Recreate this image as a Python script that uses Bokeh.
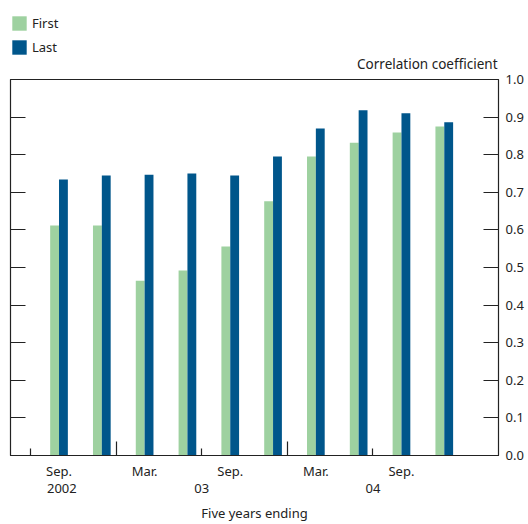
from bokeh.plotting import figure
from bokeh.layouts import column
from bokeh.models import (Range1d, LinearAxis, FixedTicker, Legend, LegendItem,
                          ColumnDataSource, Label, PrintfTickFormatter)
from bokeh.transform import dodge
from bokeh.embed import file_html
from bokeh.resources import INLINE

# x values are months counted from Jan 2002 = 1 (quarter ends)
months = [9, 12, 15, 18, 21, 24, 27, 30, 33, 36]
first = [0.612, 0.612, 0.465, 0.492, 0.556, 0.676, 0.795, 0.832, 0.859, 0.875]
last = [0.734, 0.745, 0.747, 0.750, 0.745, 0.795, 0.870, 0.918, 0.910, 0.886]

series_names = ["First", "Last"]
month_label_pos = [9, 15, 21, 27, 33]
month_labels = ["Sep.", "Mar.", "Sep.", "Mar.", "Sep."]
year_label_pos = [9.2, 19, 31]
year_labels = ["2002", "03", "04"]
year_ticks = [13, 25]
half_year_ticks = [7, 19, 31]
y_ticks = [0.0, 0.1, 0.2, 0.3, 0.4, 0.5, 0.6, 0.7, 0.8, 0.9, 1.0]
y_unit = "Correlation coefficient"
x_title = "Five years ending"

FONT = "Noto Sans"
TXT = "#222222"
LINE = "#222222"
GREEN = "#9ed1a0"
BLUE = "#00568b"

src = ColumnDataSource(dict(m=months, first=first, last=last))

# ---------- header strip: legend + unit label ----------
top = figure(width=528, height=71, output_backend="svg", toolbar_location=None,
             x_range=Range1d(5.6, 39.8), y_range=Range1d(0, 1),
             x_axis_location=None, y_axis_location=None,
             min_border_left=0, min_border_right=0, min_border_top=0, min_border_bottom=0)
top.grid.visible = False
top.outline_line_color = None
top.border_fill_color = "white"
h1 = top.vbar(x="m", top="first", width=0.62, source=src, fill_color=GREEN,
              line_color=None, visible=False)
h2 = top.vbar(x="m", top="last", width=0.62, source=src, fill_color=BLUE,
              line_color=None, visible=False)
legend = Legend(items=[LegendItem(label=series_names[0], renderers=[h1]),
                       LegendItem(label=series_names[1], renderers=[h2])],
                location=(0, 15), orientation="vertical", click_policy="none",
                glyph_width=18, glyph_height=18, label_standoff=4,
                spacing=6, padding=0, margin=0, border_line_color=None,
                background_fill_alpha=0,
                label_text_font=FONT, label_text_font_size="13px",
                label_text_color=TXT, label_height=18)
top.add_layout(legend, "center")
top.add_layout(Label(x=487, y=8, x_units="screen", y_units="screen", text=y_unit,
                     text_align="right", text_baseline="middle", text_font=FONT,
                     text_font_size="13.5px", text_color=TXT))

# ---------- main chart ----------
p = figure(width=528, height=453, output_backend="svg", toolbar_location=None,
           x_range=Range1d(5.6, 39.8), y_range=Range1d(0, 1),
           x_axis_location=None, y_axis_location=None,
           min_border_left=10, min_border_right=30, min_border_top=8, min_border_bottom=0)
p.grid.visible = False
p.outline_line_color = LINE
p.outline_line_width = 1.2
p.background_fill_color = "white"
p.border_fill_color = "white"

p.vbar(x=dodge("m", -0.31, range=p.x_range), top="first", width=0.62, bottom=0,
       source=src, fill_color=GREEN, line_color=None)
p.vbar(x=dodge("m", 0.31, range=p.x_range), top="last", width=0.62, bottom=0,
       source=src, fill_color=BLUE, line_color=None)

ry = LinearAxis(ticker=FixedTicker(ticks=y_ticks, minor_ticks=[]),
                formatter=PrintfTickFormatter(format="%.1f"),
                major_tick_in=15, major_tick_out=0, minor_tick_in=0, minor_tick_out=0,
                major_tick_line_color=LINE, major_tick_line_width=1.2,
                axis_line_color=None, major_label_standoff=7,
                major_label_text_font=FONT, major_label_text_font_size="13px",
                major_label_text_color=TXT)
p.add_layout(ry, "right")

ly = LinearAxis(ticker=FixedTicker(ticks=y_ticks, minor_ticks=[]),
                major_tick_in=15, major_tick_out=0, minor_tick_in=0, minor_tick_out=0,
                major_tick_line_color=LINE, major_tick_line_width=1.2,
                axis_line_color=None, major_label_standoff=0,
                major_label_text_font_size="1px", major_label_text_color=None)
p.add_layout(ly, "left")

xa = LinearAxis(ticker=FixedTicker(ticks=year_ticks, minor_ticks=half_year_ticks),
                major_tick_in=14, major_tick_out=0, minor_tick_in=7, minor_tick_out=0,
                major_tick_line_color=LINE, minor_tick_line_color=LINE,
                major_tick_line_width=1.2, minor_tick_line_width=1.2,
                axis_line_color=LINE, axis_line_width=1.2,
                major_label_standoff=0, major_label_text_font_size="1px",
                major_label_text_color=None)
p.add_layout(xa, "below")

xb = LinearAxis(ticker=FixedTicker(ticks=month_label_pos, minor_ticks=[]),
                major_label_overrides={k: v for k, v in zip(month_label_pos, month_labels)},
                major_tick_in=0, major_tick_out=0, minor_tick_in=0, minor_tick_out=0,
                axis_line_color=None, major_label_standoff=6,
                major_label_text_font=FONT, major_label_text_font_size="13px",
                major_label_text_color=TXT)
p.add_layout(xb, "below")

xc = LinearAxis(ticker=FixedTicker(ticks=year_label_pos, minor_ticks=[]),
                major_label_overrides={k: v for k, v in zip(year_label_pos, year_labels)},
                major_tick_in=0, major_tick_out=0, minor_tick_in=0, minor_tick_out=0,
                axis_line_color=None, major_label_standoff=1,
                major_label_text_font=FONT, major_label_text_font_size="13px",
                major_label_text_color=TXT,
                axis_label=x_title, axis_label_standoff=8,
                axis_label_text_font=FONT, axis_label_text_font_size="13px",
                axis_label_text_font_style="normal", axis_label_text_color=TXT)
p.add_layout(xc, "below")

layout = column(top, p, spacing=0)
open("out.html", "w").write(file_html(layout, INLINE))
